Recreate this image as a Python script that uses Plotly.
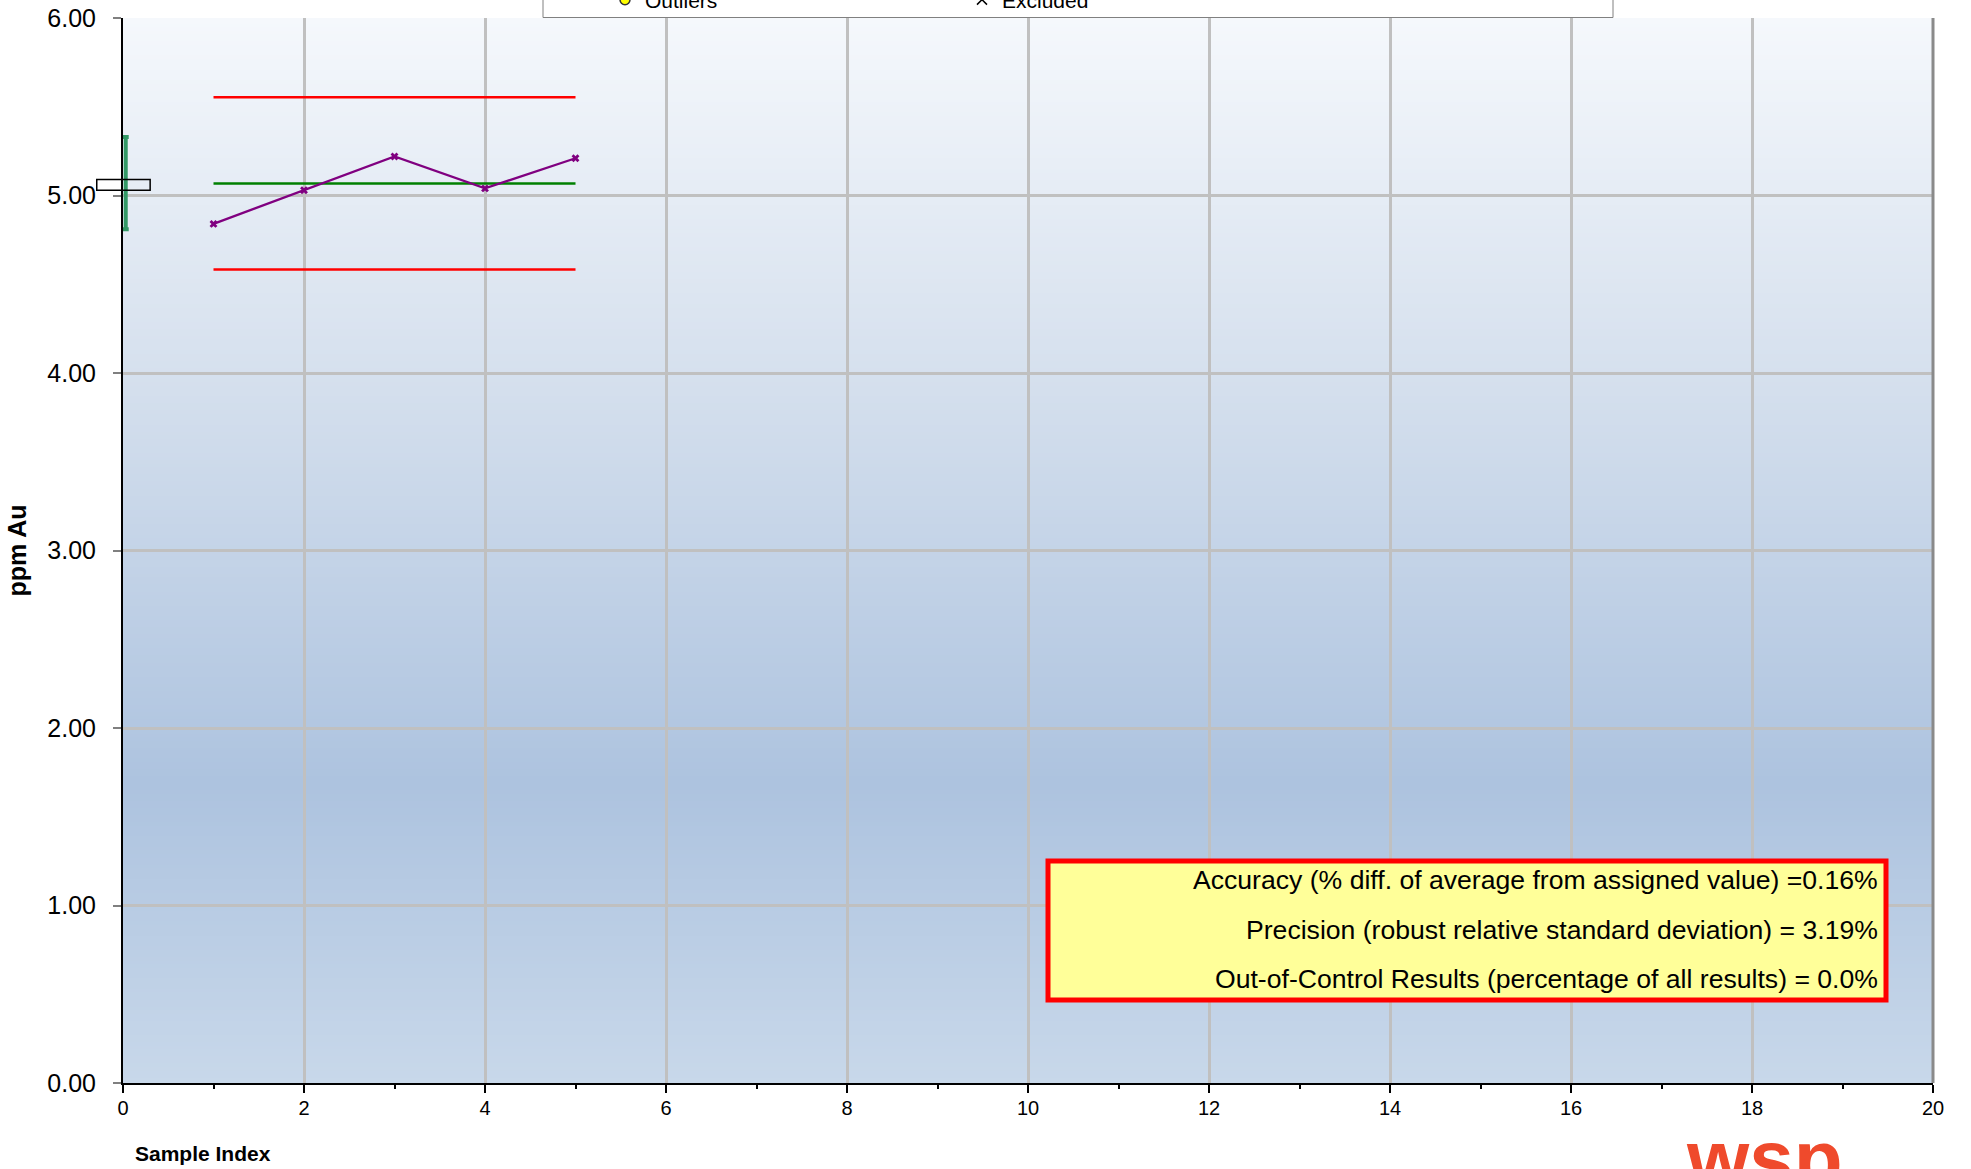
import base64
import struct
import zlib

import plotly.graph_objects as go

# ---- data -------------------------------------------------------------
sample_index = [1, 2, 3, 4, 5]
results_ppm = [4.84, 5.03, 5.22, 5.04, 5.21]

assigned_value = 5.06          # certified value of the standard
assigned_halfwidth = 0.03      # half-height of the assigned-value box
assigned_box_x = [-0.29, 0.30]
accepted_range = [4.81, 5.33]  # accepted range bar drawn beside the y axis
accepted_range_x = 0.03
precision_pct = 3.19           # robust relative standard deviation, %
control_k = 3                  # control limits at +/- k robust SD

x_range = [0, 20]
y_range = [0, 6]
x_ticks = list(range(0, 21, 2))
y_ticks = [0, 1, 2, 3, 4, 5, 6]

# ---- derived statistics ----------------------------------------------
mean_val = sum(results_ppm) / len(results_ppm)
robust_sd = precision_pct / 100 * mean_val
upper_limit = mean_val + control_k * robust_sd
lower_limit = mean_val - control_k * robust_sd
accuracy_pct = (mean_val - assigned_value) / assigned_value * 100
out_of_control = sum(1 for v in results_ppm if v > upper_limit or v < lower_limit)
ooc_pct = out_of_control / len(results_ppm) * 100

stats_lines = [
    f"Accuracy (% diff. of average from assigned value) ={accuracy_pct:.2f}%",
    f"Precision (robust relative standard deviation) = {precision_pct:.2f}%",
    f"Out-of-Control Results (percentage of all results) = {ooc_pct:.1f}%",
]

# ---- figure geometry ---------------------------------------------------
W, H = 1971, 1169
M_L, M_R, M_T, M_B = 123, 38, 18, 86
PW = W - M_L - M_R
PH = H - M_T - M_B


def px_x(px):
    """figure pixel column -> paper x"""
    return (px - M_L) / PW


def px_y(py):
    """figure pixel row -> paper y"""
    return (H - M_B - py) / PH


def data_to_paper_x(v):
    return (v - x_range[0]) / (x_range[1] - x_range[0])


# ---- plot-area gradient (2 px wide PNG, stretched) --------------------
def gradient_png(stops, height=300):
    def lerp(t):
        for (t0, c0), (t1, c1) in zip(stops[:-1], stops[1:]):
            if t0 <= t <= t1:
                f = (t - t0) / (t1 - t0) if t1 > t0 else 0
                return bytes(round(a + (b - a) * f) for a, b in zip(c0, c1))
        return bytes(stops[-1][1])

    raw = b"".join(b"\x00" + lerp(i / (height - 1)) * 2 for i in range(height))

    def chunk(tag, data):
        return (struct.pack(">I", len(data)) + tag + data
                + struct.pack(">I", zlib.crc32(tag + data) & 0xFFFFFFFF))

    png = (b"\x89PNG\r\n\x1a\n"
           + chunk(b"IHDR", struct.pack(">IIBBBBB", 2, height, 8, 2, 0, 0, 0))
           + chunk(b"IDAT", zlib.compress(raw))
           + chunk(b"IEND", b""))
    return "data:image/png;base64," + base64.b64encode(png).decode()


bg_stops = [
    (0.0, (245, 248, 252)),
    (0.35, (212, 223, 237)),
    (0.72, (173, 195, 223)),
    (1.0, (200, 216, 234)),
]

FONT = "Arial, 'Liberation Sans', sans-serif"

fig = go.Figure()

# control limits
for lim in (upper_limit, lower_limit):
    fig.add_trace(go.Scatter(
        x=[sample_index[0], sample_index[-1]], y=[lim, lim],
        mode="lines", line=dict(color="#ff0000", width=2.5),
        showlegend=False, hoverinfo="skip"))

# mean of results
fig.add_trace(go.Scatter(
    x=[sample_index[0], sample_index[-1]], y=[mean_val, mean_val],
    mode="lines", line=dict(color="#008000", width=2.5),
    showlegend=False, hoverinfo="skip"))

# accepted range bar at the y axis
rng_mid = (accepted_range[0] + accepted_range[1]) / 2
rng_half = (accepted_range[1] - accepted_range[0]) / 2
fig.add_trace(go.Scatter(
    x=[accepted_range_x], y=[rng_mid], mode="markers",
    marker=dict(size=1, color="rgba(0,0,0,0)"),
    error_y=dict(type="data", array=[rng_half], symmetric=True,
                 color="#339966", thickness=4, width=3),
    showlegend=False, hoverinfo="skip"))

# results
fig.add_trace(go.Scatter(
    x=sample_index, y=results_ppm, mode="lines+markers",
    line=dict(color="#800080", width=2.3),
    marker=dict(symbol="x", size=7, color="#800080"),
    showlegend=False))

# legend-only entries
fig.add_trace(go.Scatter(
    x=[None], y=[None], mode="markers", name="Outliers",
    marker=dict(symbol="circle", size=10, color="#ffff00",
                line=dict(color="#333333", width=1.5))))
fig.add_trace(go.Scatter(
    x=[None], y=[None], mode="markers", name="Excluded",
    marker=dict(symbol="x-thin", size=10, color="#000000",
                line=dict(color="#000000", width=1.5))))

shapes = [
    # assigned value box
    dict(type="rect", xref="paper", yref="y",
         x0=data_to_paper_x(assigned_box_x[0]), x1=data_to_paper_x(assigned_box_x[1]),
         y0=assigned_value - assigned_halfwidth, y1=assigned_value + assigned_halfwidth,
         line=dict(color="#000000", width=1.5), fillcolor="rgba(0,0,0,0)",
         layer="above"),
    # right frame
    dict(type="line", xref="paper", yref="paper", x0=1, x1=1, y0=0, y1=1,
         line=dict(color="#8a8a8a", width=3)),
    # legend frame
    dict(type="rect", xref="paper", yref="paper",
         x0=px_x(543), x1=px_x(1613), y0=px_y(17.5), y1=px_y(-40),
         line=dict(color="#808080", width=1), fillcolor="#ffffff", layer="above"),
    # statistics box
    dict(type="rect", xref="paper", yref="paper",
         x0=px_x(1048), x1=px_x(1886), y0=px_y(1000), y1=px_y(861),
         line=dict(color="#ff0000", width=5), fillcolor="#ffff99", layer="above"),
]

annotations = [
    dict(text="<b>Sample Index</b>", xref="paper", yref="paper",
         x=px_x(133), y=px_y(1153), xanchor="left", yanchor="middle",
         showarrow=False, font=dict(family=FONT, size=21, color="#000000")),
    dict(text="<b>wsp</b>", xref="paper", yref="paper",
         x=px_x(1764), y=px_y(1158), xanchor="center", yanchor="middle",
         showarrow=False, font=dict(family=FONT, size=80, color="#ef4a2c")),
]
for line_txt, py in zip(stats_lines, (880, 930, 979)):
    annotations.append(dict(
        text=line_txt, xref="paper", yref="paper",
        x=px_x(1880), y=px_y(py), xanchor="right", yanchor="middle",
        showarrow=False, font=dict(family=FONT, size=26.6, color="#000000")))

fig.update_layout(
    width=W, height=H,
    margin=dict(l=M_L, r=M_R, t=M_T, b=M_B, autoexpand=False),
    paper_bgcolor="#ffffff",
    plot_bgcolor="#ffffff",
    font=dict(family=FONT, color="#000000"),
    showlegend=True,
    legend=dict(orientation="h", x=px_x(605), xanchor="left",
                y=px_y(0), yanchor="middle",
                bgcolor="rgba(0,0,0,0)", borderwidth=0,
                entrywidth=312, entrywidthmode="pixels", itemwidth=30,
                font=dict(family=FONT, size=21, color="#000000")),
    images=[dict(source=gradient_png(bg_stops), xref="x", yref="y",
                 x=x_range[0], y=y_range[1],
                 sizex=x_range[1] - x_range[0], sizey=y_range[1] - y_range[0],
                 sizing="stretch", layer="below", xanchor="left", yanchor="top")],
    shapes=shapes,
    annotations=annotations,
    xaxis=dict(range=x_range, tickvals=x_ticks, showgrid=True,
               gridcolor="#c0c0c0", gridwidth=2.5,
               showline=True, linecolor="#000000", linewidth=2,
               ticks="outside", ticklen=8, tickwidth=1.5, tickcolor="#000000",
               tickfont=dict(family=FONT, size=20), ticklabelstandoff=-2,
               minor=dict(dtick=1, tick0=0, ticks="outside", ticklen=4,
                          tickcolor="#000000", showgrid=False),
               zeroline=False, fixedrange=True),
    yaxis=dict(range=y_range, tickvals=y_ticks, tickformat=".2f", showgrid=True,
               gridcolor="#c0c0c0", gridwidth=2.5,
               showline=True, linecolor="#000000", linewidth=2,
               ticks="outside", ticklen=8, tickwidth=1.5, tickcolor="#808080",
               tickfont=dict(family=FONT, size=25), ticklabelstandoff=12,
               title=dict(text="<b>ppm Au</b>", standoff=14,
                          font=dict(family=FONT, size=25)),
               zeroline=False, fixedrange=True),
)

fig.write_html("out.html")
